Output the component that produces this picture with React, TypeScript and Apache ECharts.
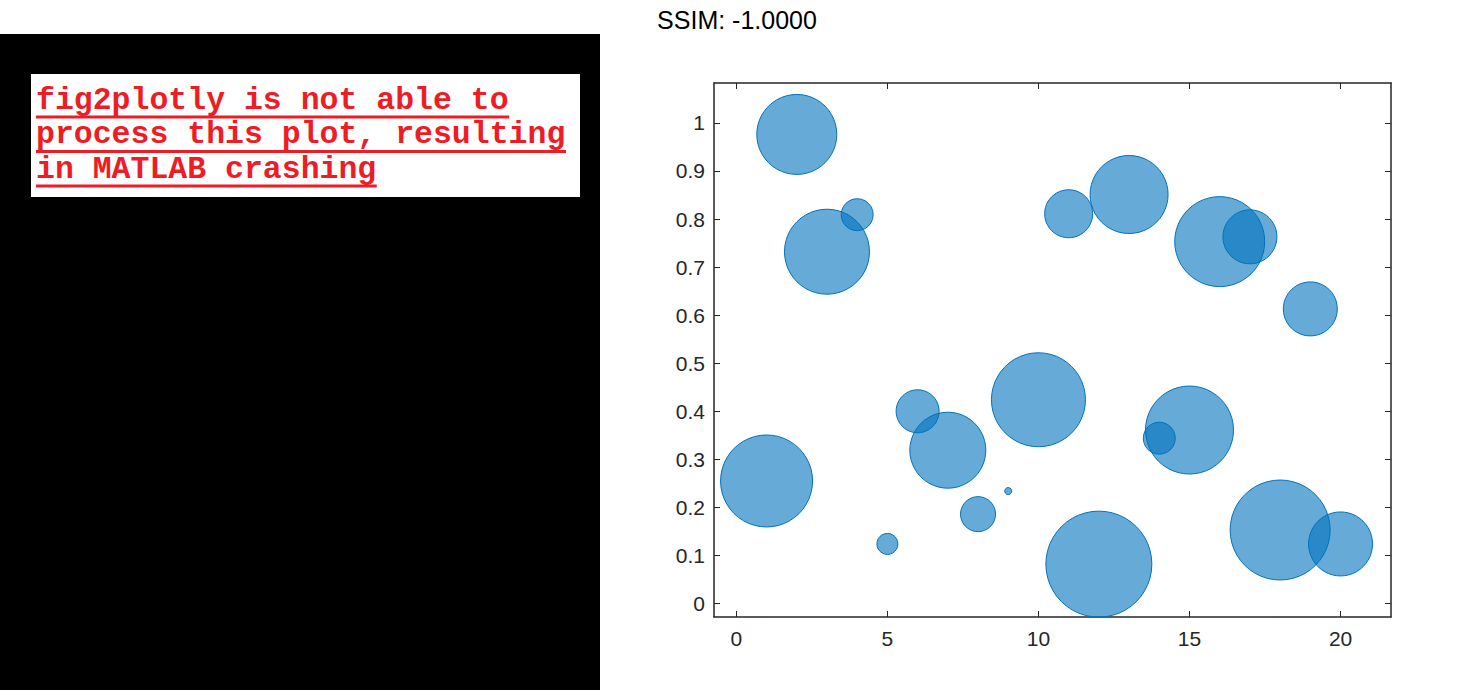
import React, { useEffect, useRef } from "react";
import * as echarts from "echarts";

const xValues = [1, 2, 3, 4, 5, 6, 7, 8, 9, 10, 11, 12, 13, 14, 15, 16, 17, 18, 19, 20];
const yValues = [0.255, 0.976, 0.732, 0.809, 0.124, 0.4, 0.319, 0.186, 0.234, 0.424, 0.811, 0.082, 0.851, 0.344, 0.361, 0.753, 0.763, 0.153, 0.613, 0.124];
// bubble diameters (px)
const bubbleSize = [92, 80, 85, 32, 21, 43, 76, 35, 7, 94, 48, 106, 78, 32, 88, 90, 54, 100, 54, 64];
const xTicks = [0, 5, 10, 15, 20];
const yTicks = [0, 0.1, 0.2, 0.3, 0.4, 0.5, 0.6, 0.7, 0.8, 0.9, 1];
const titleText = "SSIM: -1.0000";
const messageLines = ["fig2plotly is not able to", "process this plot, resulting", "in MATLAB crashing"];

const AXIS_COLOR = "#262626";
const FONT = "'Liberation Sans', Arial, Helvetica, sans-serif";

export default function App() {
  const ref = useRef<HTMLDivElement>(null);
  useEffect(() => {
    document.body.style.margin = "0";
    if (!ref.current) return;
    const chart = echarts.init(ref.current, null, { renderer: "svg" });

    const charW = 18.93;
    const graphics: any[] = [
      { type: "rect", shape: { x: 0, y: 34, width: 600, height: 656 }, style: { fill: "#000" }, z: 0 },
      { type: "rect", shape: { x: 31, y: 74, width: 549, height: 123 }, style: { fill: "#fff" }, z: 1 },
      {
        type: "text",
        x: 737,
        y: 20,
        style: { text: titleText, font: `25px ${FONT}`, fill: "#000", textAlign: "center", textVerticalAlign: "middle" },
        z: 2,
      },
    ];
    messageLines.forEach((line, i) => {
      const baseY = 100 + i * 34.5;
      graphics.push({
        type: "text",
        x: 36,
        y: baseY,
        style: {
          text: line,
          font: `bold 31.5px 'Courier New', 'Liberation Mono', monospace`,
          fill: "#ee1c25",
          textAlign: "left",
          textVerticalAlign: "middle",
        },
        z: 2,
      });
      graphics.push({
        type: "line",
        shape: { x1: 36, y1: baseY + 17, x2: 36 + line.length * charW, y2: baseY + 17 },
        style: { stroke: "#ee1c25", lineWidth: 3 },
        z: 2,
      });
    });

    const commonAxis = {
      type: "value",
      splitLine: { show: false },
      axisLine: { show: true, onZero: false, lineStyle: { color: AXIS_COLOR, width: 1.5 } },
    };

    chart.setOption({
      animation: false,
      backgroundColor: "#fff",
      grid: { left: 714, top: 83, width: 677, height: 534, containLabel: false },
      graphic: graphics,
      xAxis: [
        {
          ...commonAxis,
          position: "bottom",
          min: -0.74,
          max: 21.67,
          axisTick: { show: true, inside: true, length: 6, customValues: xTicks, lineStyle: { color: AXIS_COLOR } },
          axisLabel: { show: true, customValues: xTicks, color: AXIS_COLOR, fontSize: 21, fontFamily: FONT, margin: 11 },
        },
        {
          ...commonAxis,
          position: "top",
          min: -0.74,
          max: 21.67,
          axisTick: { show: true, inside: true, length: 6, customValues: xTicks, lineStyle: { color: AXIS_COLOR } },
          axisLabel: { show: false },
        },
      ],
      yAxis: [
        {
          ...commonAxis,
          position: "left",
          min: -0.028,
          max: 1.083,
          axisTick: { show: true, inside: true, length: 6, customValues: yTicks, lineStyle: { color: AXIS_COLOR } },
          axisLabel: {
            show: true,
            customValues: yTicks,
            color: AXIS_COLOR,
            fontSize: 21,
            fontFamily: FONT,
            margin: 9,
            formatter: (v: number) => String(Math.round(v * 10) / 10),
          },
        },
        {
          ...commonAxis,
          position: "right",
          min: -0.028,
          max: 1.083,
          axisTick: { show: true, inside: true, length: 6, customValues: yTicks, lineStyle: { color: AXIS_COLOR } },
          axisLabel: { show: false },
        },
      ],
      series: [
        {
          type: "scatter",
          xAxisIndex: 0,
          yAxisIndex: 0,
          data: xValues.map((x, i) => [x, yValues[i], bubbleSize[i]]),
          symbol: "circle",
          symbolSize: (val: number[]) => val[2],
          itemStyle: { color: "rgba(0,114,189,0.6)", borderColor: "#0072BD", borderWidth: 1, opacity: 1 },
          emphasis: { disabled: true },
          clip: false,
        },
      ],
    });
    return () => chart.dispose();
  }, []);
  return <div ref={ref} style={{ width: 1475, height: 690 }} />;
}
